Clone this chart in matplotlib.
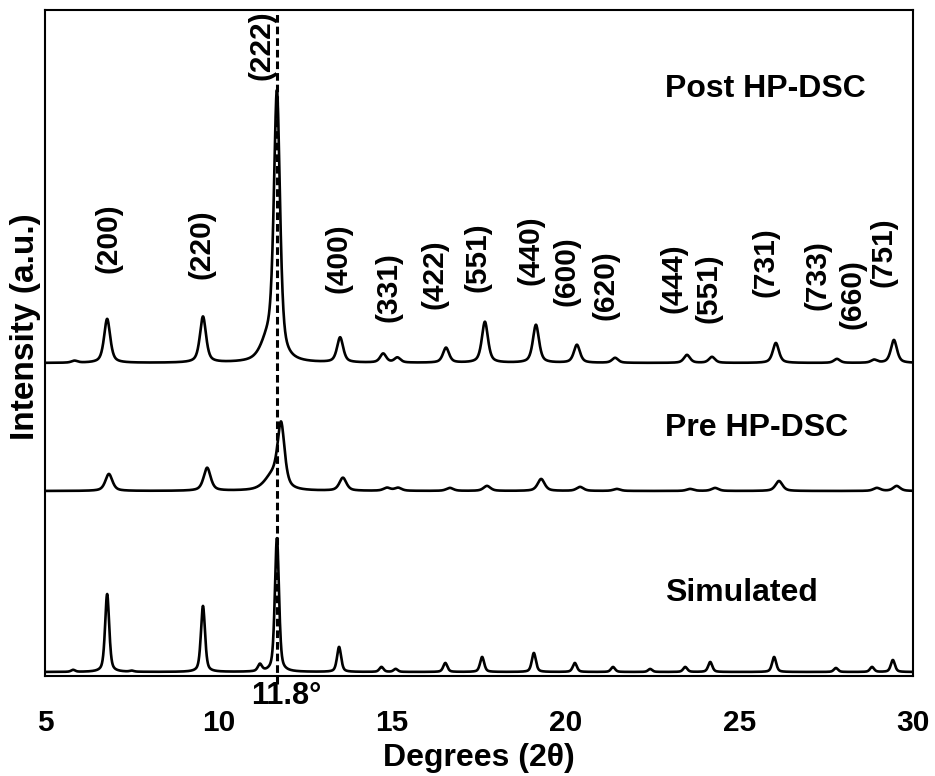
import matplotlib.pyplot as plt
import numpy as np

# peak positions (deg 2-theta) and heights (a.u.)
sim_pos = [5.81, 7.50, 6.79, 9.55, 11.19, 11.68, 13.47, 14.69, 15.10, 16.53, 17.59,
           19.08, 20.26, 21.36, 22.43, 23.44, 24.16, 26.00, 27.78, 28.82, 29.42]
sim_h = [2, 1, 78, 66, 7, 134, 25, 5, 3, 9, 15,
         19, 9, 5, 3, 5, 10, 15, 4, 5, 12]

pre_pos = [6.84, 9.67, 11.55, 11.80, 13.58, 14.85, 15.17, 16.66, 17.73, 19.29,
           20.41, 21.47, 23.58, 24.30, 26.14, 28.96, 29.53]
pre_h = [17, 23, 14, 62, 13, 3, 3, 3, 5, 12,
         4, 2, 2, 3, 10, 3, 5]

post_pos = [5.85, 6.79, 9.55, 11.40, 11.68, 13.50, 14.74, 15.15, 16.55, 17.67, 19.14,
            20.32, 21.42, 23.49, 24.21, 26.05, 27.81, 28.88, 29.45]
post_h = [2, 44, 46, 18, 266, 25, 9, 5, 15, 41, 38,
          18, 5, 8, 6, 20, 4, 3, 23]

shoulders = (11.40, 11.55)  # broad low-angle shoulders of (222)

baselines = {'Simulated': 4, 'Pre HP-DSC': 185, 'Post HP-DSC': 313}

hkl = ['(200)', '(220)', '(222)', '(400)', '(331)', '(422)', '(551)', '(440)',
       '(600)', '(620)', '(444)', '(551)', '(731)', '(733)', '(660)', '(751)']
hkl_x = [6.84, 9.52, 11.25, 13.44, 14.88, 16.23, 17.47, 18.97,
         20.03, 21.13, 23.09, 24.10, 25.74, 27.26, 28.27, 29.14]
hkl_y = [438, 432, 631, 418, 389, 402, 419, 426,
         405, 391, 398, 388, 414, 401, 382, 424]


def pattern(x, pos, h, fwhm, eta=0.55):
    y = np.zeros_like(x)
    for p, a in zip(pos, h):
        w = fwhm * (2.2 if p in shoulders else 1.0)
        d = (x - p) / (w / 2)
        lor = 1 / (1 + d**2)
        gau = np.exp(-np.log(2) * d**2)
        y += a * (eta * lor + (1 - eta) * gau)
    return y


x = np.linspace(5, 30, 3001)

plt.rcParams['font.family'] = 'Liberation Sans'
plt.rcParams['font.weight'] = 'bold'

fig = plt.figure(figsize=(9.35, 7.76), dpi=100)
ax = fig.add_axes([45 / 935, 100 / 776, 868 / 935, 666 / 776])

ax.plot(x, baselines['Simulated'] + pattern(x, sim_pos, sim_h, 0.14, 0.5), color='black', lw=1.9)
ax.plot(x, baselines['Pre HP-DSC'] + pattern(x, pre_pos, pre_h, 0.24, 0.6), color='black', lw=1.9)
ax.plot(x, baselines['Post HP-DSC'] + pattern(x, post_pos, post_h, 0.21, 0.6), color='black', lw=1.9)

ax.plot([11.68, 11.68], [-8, 666], color='black', lw=2.2, ls=(0, (2.5, 1.3)), clip_on=False, zorder=5)

for t, tx, ty in zip(hkl, hkl_x, hkl_y):
    ax.text(tx, ty, t, rotation=90, ha='center', va='center', fontsize=21.5)

ax.text(22.85, 587, 'Post HP-DSC', fontsize=23, fontweight='bold', va='center')
ax.text(22.85, 248, 'Pre HP-DSC', fontsize=23, fontweight='bold', va='center')
ax.text(22.85, 83, 'Simulated', fontsize=23, fontweight='bold', va='center')
ax.text(11.95, -20, '11.8°', fontsize=22, ha='center', va='center')

ax.set_xlim(5, 30)
ax.set_ylim(0, 666)
ax.set_xticks([5, 10, 15, 20, 25, 30])
ax.set_yticks([])
ax.tick_params(axis='x', length=0, pad=24, labelsize=21.5)
for s in ax.spines.values():
    s.set_linewidth(1.5)

ax.set_xlabel('Degrees (2θ)', fontsize=23, fontweight='bold', labelpad=4)
ax.set_ylabel('Intensity (a.u.)', fontsize=24, fontweight='bold')
ax.yaxis.set_label_coords(-0.005, 0.525)

fig.savefig('out.png', dpi=100)
